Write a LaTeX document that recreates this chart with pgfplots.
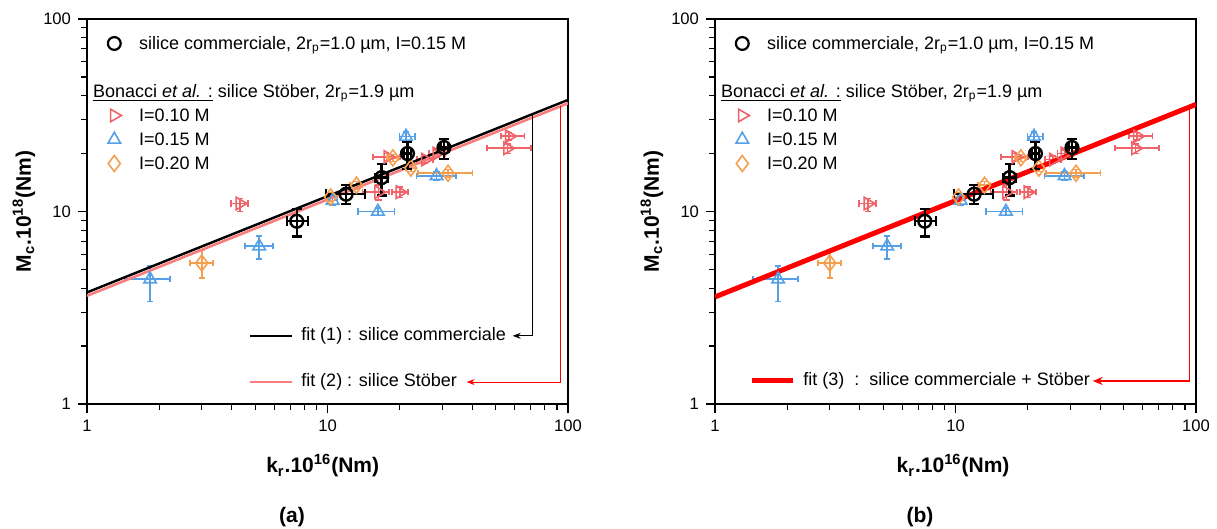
\documentclass[border=0pt]{standalone}
\usepackage{fontspec}
\setmainfont{Liberation Sans}
\usepackage{pgfplots}
\pgfplotsset{compat=1.18}
\usepackage{pgfplotstable}
\usetikzlibrary{arrows.meta}

\definecolor{cred}{RGB}{240,100,105}
\definecolor{cblue}{RGB}{85,160,230}
\definecolor{corange}{RGB}{245,160,80}
\definecolor{cpink}{RGB}{250,125,125}
\definecolor{cfit}{RGB}{255,0,0}

\pgfplotstableread{
x y xm xp ym yp
7.45 8.9 0.65 0.85 1.5 1.4
11.95 12.3 2.1 2.35 1.4 1.4
16.8 15.0 1.0 1.0 2.9 2.6
21.5 20.0 0.8 0.8 3.4 3.0
30.5 21.5 1.0 1.3 2.8 2.3
}\blacktab

\pgfplotstableread{
x y xm xp ym yp
4.32 11.0 0.34 0.35 1.0 0.7
16.3 12.6 2.3 1.7 1.1 1.1
20.0 12.6 1.5 1.6 0.8 0.8
17.8 19.2 2.3 2.2 0.8 0.8
25.5 18.6 2.0 2.0 0.8 0.8
28.5 20.0 2.0 2.5 0.8 0.8
57.0 24.6 4.5 9.0 1.1 1.1
56.0 21.3 10.0 14.0 1.3 1.2
}\redtab

\pgfplotstableread{
x y xm xp ym yp
1.83 4.45 0.39 0.38 1.05 0.75
5.2 6.6 0.67 0.73 0.93 0.86
10.5 11.4 0.5 0.5 0.6 0.6
16.2 10.0 2.8 2.8 0.45 0.45
21.2 24.5 1.3 1.9 1.2 1.4
28.4 15.3 5.0 5.8 0.7 0.7
}\bluetab

\pgfplotstableread{
x y xm xp ym yp
3.0 5.4 0.32 0.34 0.9 0.9
10.3 11.9 0.5 0.5 0.6 0.6
13.2 13.7 0.8 0.8 0.6 0.6
18.7 19.0 1.0 1.0 0.8 0.8
22.2 16.8 1.0 1.0 0.7 0.7
31.7 15.8 7.9 8.3 0.7 0.7
}\orangetab

\pgfplotsset{
  /pgfplots/mylegimg/.style={/pgfplots/legend image code/.code={\draw[##1] plot coordinates {(0pt,0pt)};}},
  /pgfplots/mycirc/.style={only marks, black, mark=o, mark size=3.2pt, line width=1.2pt},
  /pgfplots/myrtri/.style={only marks, cred, mark=triangle, mark size=3.6pt, mark options={rotate=-90}, line width=0.8pt},
  /pgfplots/mybtri/.style={only marks, cblue, mark=triangle, mark size=3.6pt, line width=0.8pt},
  /pgfplots/myodia/.style={only marks, corange, mark=diamond, mark size=4pt, line width=0.8pt},
  /pgfplots/myebars/.style={/pgfplots/error bars/x dir=both, /pgfplots/error bars/x explicit,
    /pgfplots/error bars/y dir=both, /pgfplots/error bars/y explicit,
    /pgfplots/error bars/error bar style={line width=0.8pt, #1},
    /pgfplots/error bars/error mark options={rotate=90, mark size=1.6pt, line width=0.8pt, #1}},
  /pgfplots/myebarsk/.style={/pgfplots/error bars/x dir=both, /pgfplots/error bars/x explicit,
    /pgfplots/error bars/y dir=both, /pgfplots/error bars/y explicit,
    /pgfplots/error bars/error bar style={line width=1.2pt, black},
    /pgfplots/error bars/error mark options={rotate=90, mark size=2.5pt, line width=1.2pt, black}},
}

\newcommand{\legendblock}{%
  \addlegendimage{mylegimg, black, only marks, mark=o, mark size=3.2pt, line width=1.1pt}
  \addlegendentry{silice commerciale, 2r\textsubscript{p}=1.0 µm, I=0.15 M}
  \addlegendimage{empty legend}
  \addlegendentry{}
  \addlegendimage{empty legend}
  \addlegendentry{\hspace*{-23pt}\underline{Bonacci \textit{et al.} :} silice Stöber, 2r\textsubscript{p}=1.9 µm}
  \addlegendimage{mylegimg, cred, only marks, mark=triangle, mark size=3.6pt, mark options={rotate=-90}, line width=0.8pt}
  \addlegendentry{I=0.10 M}
  \addlegendimage{mylegimg, cblue, only marks, mark=triangle, mark size=3.6pt, line width=0.8pt}
  \addlegendentry{I=0.15 M}
  \addlegendimage{mylegimg, corange, only marks, mark=diamond, mark size=4pt, line width=0.8pt}
  \addlegendentry{I=0.20 M}
}

\newcommand{\colordata}{%
  \addplot[myrtri, forget plot, myebars=cred] table[x=x, y=y, x error plus=xp, x error minus=xm, y error plus=yp, y error minus=ym] {\redtab};
  \addplot[mybtri, forget plot, myebars=cblue] table[x=x, y=y, x error plus=xp, x error minus=xm, y error plus=yp, y error minus=ym] {\bluetab};
  \addplot[myodia, forget plot, myebars=corange] table[x=x, y=y, x error plus=xp, x error minus=xm, y error plus=yp, y error minus=ym] {\orangetab};
}

\newcommand{\circdata}{%
  \addplot[mycirc, forget plot, myebarsk] table[x=x, y=y, x error plus=xp, x error minus=xm, y error plus=yp, y error minus=ym] {\blacktab};
}

\begin{document}
\begin{tikzpicture}
\path[use as bounding box] (0,0) rectangle (608.5pt,-264.5pt);

\begin{axis}[at={(43.5pt,-202pt)}, anchor=south west,
    width=240.5pt, height=192.5pt, scale only axis,
    xmode=log, ymode=log, xmin=1, xmax=100, ymin=1, ymax=100,
    xtick={1,10,100}, xticklabels={1,10,100},
    ytick={1,10,100}, yticklabels={1,10,100},
    minor xtick={2,3,4,5,6,7,8,9,20,30,40,50,60,70,80,90},
    minor ytick={2,3,4,5,6,7,8,9,20,30,40,50,60,70,80,90},
    tick align=outside, tick pos=left,
    major tick length=4.5pt, minor tick length=3pt,
    axis line style={line width=0.7pt},
    every tick/.style={black, line width=0.6pt},
    tick label style={font=\fontsize{8.3}{9}\selectfont},
    label style={font=\bfseries\fontsize{10.5}{12}\selectfont},
    xlabel={k\textsubscript{r}.10\textsuperscript{16}(Nm)},
    ylabel={M\textsubscript{c}.10\textsuperscript{18}(Nm)},
    xlabel style={at={(axis description cs:0.49,-0.161)}, anchor=center},
    ylabel style={at={(axis description cs:-0.131,0.5)}, anchor=center},
    legend cell align=left,
    legend style={draw=none, fill=none, at={(axis description cs:0.0426,0.966)},
      anchor=north west, inner sep=0pt, row sep=1pt, column sep=8.8pt,
      nodes={inner sep=0pt, text height=8.7pt, text depth=2.3pt, font=\fontsize{9}{10.8}\selectfont}}]
  \legendblock
  \colordata
  \addplot[cpink, line width=1.3pt, forget plot] coordinates {(1,3.65) (100,36.5)};
  \addplot[black, line width=1.2pt, forget plot] coordinates {(1,3.8) (100,38)};
  \circdata
  \draw[black, line width=1.2pt] (axis cs:4.76,2.26) -- (axis cs:7.11,2.26);
  \node[anchor=west, inner sep=0pt, font=\fontsize{9}{10.8}\selectfont] at (axis cs:7.75,2.26) {fit (1) : silice commerciale};
  \draw[cpink, line width=1.3pt] (axis cs:4.76,1.30) -- (axis cs:7.11,1.30);
  \node[anchor=west, inner sep=0pt, font=\fontsize{9}{10.8}\selectfont] at (axis cs:7.75,1.30) {fit (2) : silice Stöber};
  \draw[black, line width=0.5pt, -{Stealth[length=4pt,width=3pt]}] (axis cs:71.3,32.1) -- (axis cs:71.3,2.26) -- (axis cs:58.9,2.26);
  \draw[cfit, line width=0.5pt, -{Stealth[length=4pt,width=3pt]}] (axis cs:93.2,35.2) -- (axis cs:93.2,1.30) -- (axis cs:37.9,1.30);
\end{axis}

\begin{axis}[at={(357.5pt,-202pt)}, anchor=south west,
    width=240.5pt, height=192.5pt, scale only axis,
    xmode=log, ymode=log, xmin=1, xmax=100, ymin=1, ymax=100,
    xtick={1,10,100}, xticklabels={1,10,100},
    ytick={1,10,100}, yticklabels={1,10,100},
    minor xtick={2,3,4,5,6,7,8,9,20,30,40,50,60,70,80,90},
    minor ytick={2,3,4,5,6,7,8,9,20,30,40,50,60,70,80,90},
    tick align=outside, tick pos=left,
    major tick length=4.5pt, minor tick length=3pt,
    axis line style={line width=0.7pt},
    every tick/.style={black, line width=0.6pt},
    tick label style={font=\fontsize{8.3}{9}\selectfont},
    label style={font=\bfseries\fontsize{10.5}{12}\selectfont},
    xlabel={k\textsubscript{r}.10\textsuperscript{16}(Nm)},
    ylabel={M\textsubscript{c}.10\textsuperscript{18}(Nm)},
    xlabel style={at={(axis description cs:0.495,-0.161)}, anchor=center},
    ylabel style={at={(axis description cs:-0.131,0.5)}, anchor=center},
    legend cell align=left,
    legend style={draw=none, fill=none, at={(axis description cs:0.0426,0.966)},
      anchor=north west, inner sep=0pt, row sep=1pt, column sep=8.8pt,
      nodes={inner sep=0pt, text height=8.7pt, text depth=2.3pt, font=\fontsize{9}{10.8}\selectfont}}]
  \legendblock
  \colordata
  \addplot[cfit, line width=2.5pt, forget plot] coordinates {(1,3.6) (100,36)};
  \circdata
  \draw[cfit, line width=2.5pt] (axis cs:1.425,1.317) -- (axis cs:2.11,1.317);
  \node[anchor=west, inner sep=0pt, font=\fontsize{9}{10.8}\selectfont] at (axis cs:2.32,1.317) {fit (3)\ \ :\ \ silice commerciale + Stöber};
  \draw[cfit, line width=0.8pt, -{Stealth[length=5pt,width=4pt]}] (axis cs:94.0,34.9) -- (axis cs:94.0,1.317) -- (axis cs:37.2,1.317);
\end{axis}

\node[font=\bfseries\fontsize{10.5}{12}\selectfont] at (146pt,-258.5pt) {(a)};
\node[font=\bfseries\fontsize{10.5}{12}\selectfont] at (460pt,-258.5pt) {(b)};
\end{tikzpicture}
\end{document}
